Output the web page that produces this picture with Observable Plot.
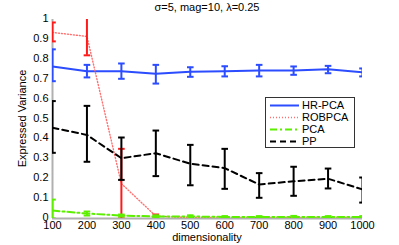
<!DOCTYPE html>
<html><head><meta charset="utf-8">
<script src="https://cdn.jsdelivr.net/npm/d3@7"></script>
<script src="https://cdn.jsdelivr.net/npm/@observablehq/plot@0.6"></script>
<style>
html,body{margin:0;padding:0;background:#fff;}
svg{display:block;}
</style></head>
<body><div id="chart"></div>
<script>
const dims = [100,200,300,400,500,600,700,800,900,1000];
const hrMean = [0.764,0.740,0.740,0.727,0.737,0.740,0.744,0.744,0.750,0.735];
const hrLo   = [0.690,0.709,0.702,0.678,0.712,0.714,0.714,0.722,0.730,0.714];
const hrHi   = [0.850,0.772,0.779,0.772,0.760,0.765,0.772,0.764,0.767,0.754];
const robMean = [0.935,0.915,0.175,0.012,0.004,0.003,0.003,0.003,0.003,0.003];
const robLo   = [0.890,0.820,0.000,0.005,0.001,0.001,0.001,0.001,0.001,0.001];
const robHi   = [0.985,1.010,0.350,0.020,0.007,0.005,0.005,0.005,0.005,0.005];
const pcaMean = [0.040,0.025,0.015,0.010,0.010,0.008,0.008,0.008,0.008,0.008];
const pcaLo   = [0.000,0.015,0.010,0.004,0.005,0.004,0.004,0.004,0.004,0.004];
const pcaHi   = [0.095,0.035,0.020,0.016,0.016,0.012,0.012,0.013,0.012,0.012];
const ppMean = [0.456,0.420,0.303,0.328,0.275,0.253,0.171,0.187,0.200,0.146];
const ppLo   = [0.330,0.285,0.194,0.213,0.167,0.149,0.104,0.114,0.151,0.080];
const ppHi   = [0.590,0.566,0.407,0.442,0.370,0.350,0.228,0.260,0.251,0.206];
const xTicks = [100,200,300,400,500,600,700,800,900,1000];
const yTicks = [0,0.1,0.2,0.3,0.4,0.5,0.6,0.7,0.8,0.9,1];
const seriesNames = ["HR-PCA","ROBPCA","PCA","PP"];
const title = "σ=5, mag=10, λ=0.25";
const xLabel = "dimensionality";
const yLabel = "Expressed Variance";

const styles = {
  "HR-PCA": {line:"#2b4cff", bar:"#2b4cff", dash:null, w:2},
  "ROBPCA": {line:"#ff7070", bar:"#ff1a1a", dash:"1,2", w:1.4},
  "PCA":    {line:"#5cf000", bar:"#5cf000", dash:"7,3,2,3", w:2},
  "PP":     {line:"#000000", bar:"#000000", dash:"6,4", w:2}
};
const seriesData = {
  "HR-PCA": [hrMean, hrLo, hrHi],
  "ROBPCA": [robMean, robLo, robHi],
  "PCA": [pcaMean, pcaLo, pcaHi],
  "PP": [ppMean, ppLo, ppHi]
};
const capSym = {draw(ctx, size){ const w = Math.sqrt(size/Math.PI); ctx.moveTo(-w,0); ctx.lineTo(w,0); }};

const marks = [
  Plot.ruleX([100], {stroke:"#b0b0b0", strokeWidth:2}),
  Plot.ruleY([0], {stroke:"#b0b0b0", strokeWidth:2})
];
for (const name of seriesNames) {
  const [m, lo, hi] = seriesData[name];
  const s = styles[name];
  const rows = dims.map((d,i)=>({x:d, m:m[i], lo:lo[i], hi:hi[i]}));
  marks.push(Plot.line(rows, {x:"x", y:"m", stroke:s.line, strokeWidth:s.w, strokeDasharray:s.dash, clip:true}));
  marks.push(Plot.ruleX(rows, {x:"x", y1:"lo", y2:"hi", stroke:s.bar, strokeWidth:2, clip:true}));
  marks.push(Plot.dot(rows, {x:"x", y:"lo", symbol:capSym, r:3.3, stroke:s.bar, strokeWidth:2, fill:"none", clip:true}));
  marks.push(Plot.dot(rows, {x:"x", y:"hi", symbol:capSym, r:3.3, stroke:s.bar, strokeWidth:2, fill:"none", clip:true}));
}
marks.push(Plot.axisX({ticks:xTicks, tickSize:0, tickPadding:3, label:null, tickFormat:d=>String(d)}));
marks.push(Plot.axisY({ticks:yTicks, tickSize:0, tickPadding:4, label:null, dy:-1, tickFormat:d=>String(+d.toFixed(1))}));

const chart = Plot.plot({
  width:399, height:245,
  marginLeft:52, marginRight:37, marginTop:19, marginBottom:27,
  style:{fontFamily:"'Liberation Sans', Arial, sans-serif", fontSize:"11px", color:"#000", background:"#fff"},
  x:{domain:[100,1000]},
  y:{domain:[0,1]},
  marks
});
document.getElementById("chart").appendChild(chart);

const svg = d3.select(chart);
const ff = "'Liberation Sans', Arial, sans-serif";
svg.append("text").attr("x",207).attr("y",11).attr("text-anchor","middle")
  .attr("font-family",ff).attr("font-size",11).attr("fill","#000").text(title);
svg.append("text").attr("x",207).attr("y",241).attr("text-anchor","middle")
  .attr("font-family",ff).attr("font-size",11).attr("fill","#000").text(xLabel);
svg.append("text").attr("transform","translate(26,118.5) rotate(-90)").attr("text-anchor","middle")
  .attr("font-family",ff).attr("font-size",11).attr("fill","#000").text(yLabel);

const lg = svg.append("g");
lg.append("rect").attr("x",265.5).attr("y",97.5).attr("width",89).attr("height",50)
  .attr("fill","#fff").attr("stroke","#333").attr("stroke-width",1);
seriesNames.forEach((name,i)=>{
  const s = styles[name];
  const yy = 105.5 + i*12;
  lg.append("line").attr("x1",270).attr("x2",299).attr("y1",yy).attr("y2",yy)
    .attr("stroke",s.line).attr("stroke-width",s.w).attr("stroke-dasharray",s.dash);
  lg.append("text").attr("x",302).attr("y",yy).attr("dy","0.35em").attr("text-anchor","start")
    .attr("font-family",ff).attr("font-size",11).attr("fill","#000").text(name);
});
</script>
</body></html>
